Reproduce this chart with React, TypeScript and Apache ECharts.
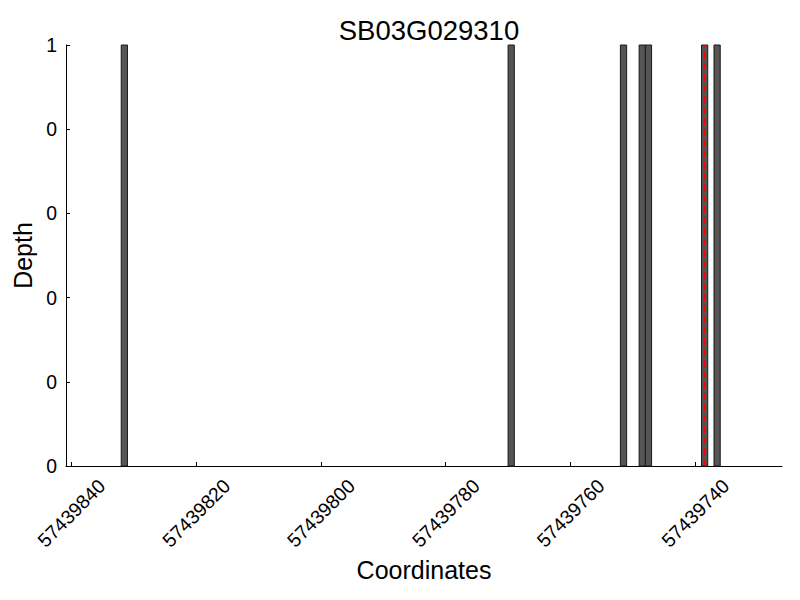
import React, { useEffect, useRef } from "react";
import * as echarts from "echarts";

const chartTitle = "SB03G029310";
const coordinates = [57439831, 57439769, 57439751, 57439748, 57439747, 57439738, 57439736];
const depths = [1, 1, 1, 1, 1, 1, 1];
const binWidth = 1;
const xTicks = [57439740, 57439760, 57439780, 57439800, 57439820, 57439840];
const xMin = 57439726.1;
const xMax = 57439840.85;
const yTicks = [0, 0.2, 0.4, 0.6, 0.8, 1];
const markerPosition = 57439738.5;

export default function App() {
  const ref = useRef<HTMLDivElement>(null);
  useEffect(() => {
    document.body.style.margin = "0";
    const chart = echarts.init(ref.current!, null, { renderer: "svg" });
    const font = "Liberation Sans";
    chart.setOption({
      animation: false,
      textStyle: { fontFamily: font },
      title: {
        text: chartTitle,
        left: 424,
        textAlign: "center",
        top: 11,
        textStyle: { fontSize: 27.5, fontWeight: "normal", color: "#000", fontFamily: font },
      },
      grid: { left: 66, right: 18, top: 45, bottom: 134, containLabel: false },
      xAxis: {
        type: "value",
        min: xMin,
        max: xMax,
        inverse: true,
        name: "Coordinates",
        nameLocation: "middle",
        nameGap: 85,
        nameTextStyle: { fontSize: 25, color: "#000", fontFamily: font },
        axisLine: { show: true, lineStyle: { color: "#000", width: 1 } },
        axisTick: { show: true, inside: true, length: 4, customValues: xTicks, lineStyle: { color: "#000" } },
        axisLabel: {
          customValues: xTicks,
          rotate: 45,
          align: "center",
          verticalAlign: "middle",
          fontSize: 19.4,
          color: "#000",
          margin: 47,
          fontFamily: font,
          formatter: (v: number) => String(Math.round(v)),
        },
        splitLine: { show: false },
      },
      yAxis: {
        type: "value",
        min: 0,
        max: 1,
        name: "Depth",
        nameLocation: "middle",
        nameGap: 28,
        nameTextStyle: { fontSize: 25, color: "#000", fontFamily: font },
        axisLine: { show: true, lineStyle: { color: "#000", width: 1 } },
        axisTick: { show: true, inside: true, length: 4, customValues: yTicks, lineStyle: { color: "#000" } },
        axisLabel: {
          customValues: yTicks,
          fontSize: 19.4,
          color: "#000",
          margin: 9,
          fontFamily: font,
          formatter: (v: number) => String(Math.floor(v + 1e-9)),
        },
        splitLine: { show: false },
      },
      series: [
        {
          type: "custom",
          data: coordinates.map((c, i) => [c, depths[i]]),
          renderItem: (params: any, api: any) => {
            const x = api.value(0);
            const d = api.value(1);
            const a = api.coord([x, 0]);
            const b = api.coord([x + binWidth, d]);
            return {
              type: "rect",
              shape: {
                x: Math.min(a[0], b[0]),
                y: b[1],
                width: Math.abs(a[0] - b[0]),
                height: a[1] - b[1],
              },
              style: { fill: "#555555", stroke: "#1a1a1a", lineWidth: 1 },
            };
          },
          z: 2,
        },
        {
          type: "line",
          data: [
            [markerPosition, 0],
            [markerPosition, 1],
          ],
          symbol: "none",
          lineStyle: { color: "#ff0000", width: 2.2, type: [7, 4] },
          z: 3,
        },
      ],
    });
    return () => chart.dispose();
  }, []);
  return <div ref={ref} style={{ width: 800, height: 600 }} />;
}
